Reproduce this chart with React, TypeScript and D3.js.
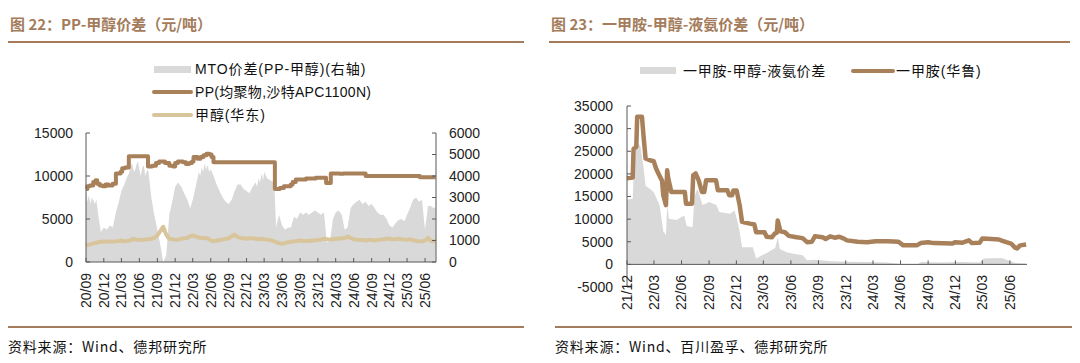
import React from 'react';
import * as d3 from 'd3';

// ---- 图22 data (left chart) ----
// MTO价差, right axis
const mtoSpread: [string, number][] = [
  ['2020-09-01', 3300], ['2020-09-08', 2800], ['2020-09-16', 3100], ['2020-09-24', 2700],
  ['2020-10-01', 3000], ['2020-10-16', 2700], ['2020-10-24', 2900], ['2020-11-01', 2300],
  ['2020-11-16', 1400], ['2020-12-01', 1600], ['2020-12-16', 1500], ['2021-01-01', 1700],
  ['2021-01-16', 1600], ['2021-02-01', 2300], ['2021-02-16', 2800], ['2021-03-01', 3300],
  ['2021-03-16', 3600], ['2021-04-01', 4000], ['2021-04-08', 4100], ['2021-04-16', 4400],
  ['2021-04-24', 4600], ['2021-05-01', 4300], ['2021-05-08', 4200], ['2021-05-16', 4500],
  ['2021-05-24', 4700], ['2021-06-01', 4300], ['2021-06-08', 4000], ['2021-06-16', 4400],
  ['2021-06-24', 4500], ['2021-07-01', 4000], ['2021-07-08', 4200], ['2021-07-16', 4300],
  ['2021-08-01', 3000], ['2021-08-16', 2200], ['2021-09-01', 1500], ['2021-09-16', 800],
  ['2021-10-01', 0], ['2021-10-16', 300], ['2021-11-01', 2200], ['2021-11-16', 2800],
  ['2021-12-01', 3500], ['2021-12-16', 3700], ['2022-01-01', 3500], ['2022-01-16', 3200],
  ['2022-02-01', 2900], ['2022-02-16', 2500], ['2022-03-01', 2900], ['2022-03-16', 3500],
  ['2022-04-01', 4200], ['2022-04-08', 4000], ['2022-04-16', 4400], ['2022-04-24', 4200],
  ['2022-05-01', 4600], ['2022-05-08', 4300], ['2022-05-16', 4500], ['2022-05-24', 4200],
  ['2022-06-01', 4300], ['2022-06-16', 4000], ['2022-07-01', 3600], ['2022-07-16', 3300],
  ['2022-08-01', 3000], ['2022-08-16', 2800], ['2022-09-01', 2700], ['2022-09-16', 2900],
  ['2022-10-01', 3300], ['2022-10-16', 3600], ['2022-11-01', 3600], ['2022-11-16', 3400],
  ['2022-12-01', 3300], ['2022-12-16', 3200], ['2023-01-01', 3500], ['2023-01-16', 3700],
  ['2023-01-24', 3500], ['2023-02-01', 3900], ['2023-02-08', 3700], ['2023-02-16', 4100],
  ['2023-02-24', 3800], ['2023-03-01', 4200], ['2023-03-16', 3900], ['2023-04-01', 3800],
  ['2023-04-22', 3700], ['2023-05-01', 1600], ['2023-05-16', 2200], ['2023-06-01', 1700],
  ['2023-06-16', 1500], ['2023-07-01', 1600], ['2023-07-16', 1600], ['2023-08-01', 2100],
  ['2023-08-16', 2000], ['2023-09-01', 2300], ['2023-09-16', 2200], ['2023-10-01', 2300],
  ['2023-10-16', 2200], ['2023-11-01', 2300], ['2023-11-16', 2400], ['2023-12-01', 2300],
  ['2023-12-16', 2200], ['2024-01-01', 2300], ['2024-01-16', 900], ['2024-02-01', 1000],
  ['2024-02-16', 2000], ['2024-03-01', 2300], ['2024-03-16', 2400], ['2024-04-01', 2200],
  ['2024-04-16', 1500], ['2024-05-01', 1600], ['2024-05-16', 2500], ['2024-06-01', 2700],
  ['2024-06-16', 2800], ['2024-07-01', 2900], ['2024-07-16', 2700], ['2024-08-01', 2800],
  ['2024-08-16', 2600], ['2024-09-01', 2700], ['2024-09-16', 2500], ['2024-10-01', 2300],
  ['2024-10-16', 2200], ['2024-11-01', 2200], ['2024-11-16', 2000], ['2024-12-01', 1700],
  ['2024-12-16', 1600], ['2025-01-01', 1800], ['2025-01-16', 1950], ['2025-02-01', 2000],
  ['2025-02-16', 1900], ['2025-03-01', 2200], ['2025-03-16', 2500], ['2025-04-01', 2900],
  ['2025-04-16', 3000], ['2025-05-01', 2800], ['2025-05-16', 2900], ['2025-06-01', 1500],
  ['2025-06-16', 2600], ['2025-07-01', 2600], ['2025-07-16', 2500], ['2025-07-25', 2550],
];

// PP(均聚物,沙特APC1100N), step changes
const ppPrice: [string, number][] = [
  ['2020-09-01', 8500], ['2020-09-08', 8800], ['2020-09-20', 8900], ['2020-10-08', 9300],
  ['2020-10-20', 9500], ['2020-10-28', 9100], ['2020-11-10', 8900], ['2020-11-25', 8800],
  ['2020-12-10', 9000], ['2020-12-25', 8900], ['2021-01-15', 9100], ['2021-02-01', 10300],
  ['2021-02-25', 10500], ['2021-03-05', 10900], ['2021-03-20', 11000], ['2021-04-08', 12300],
  ['2021-07-15', 11100], ['2021-08-05', 11200], ['2021-08-25', 11500], ['2021-09-10', 11700],
  ['2021-10-10', 11500], ['2021-11-01', 11200], ['2021-11-20', 11100], ['2021-12-01', 11500],
  ['2021-12-15', 11700], ['2022-01-10', 11600], ['2022-01-25', 11400], ['2022-02-10', 11500],
  ['2022-02-25', 11700], ['2022-03-05', 12200], ['2022-03-25', 12000], ['2022-04-10', 12200],
  ['2022-04-25', 12400], ['2022-05-10', 12600], ['2022-05-25', 12500], ['2022-06-05', 12200],
  ['2022-06-15', 11600], ['2023-04-25', 8500], ['2023-05-20', 8600], ['2023-06-10', 8800],
  ['2023-07-15', 9000], ['2023-07-25', 9300], ['2023-08-10', 9600], ['2023-10-01', 9700],
  ['2023-11-20', 9800], ['2024-01-12', 9200], ['2024-02-05', 10300], ['2024-03-20', 10250],
  ['2024-04-10', 10300], ['2024-08-01', 10000], ['2025-05-05', 9850], ['2025-07-25', 9850],
];

// 甲醇(华东)
const methanolPrice: [string, number][] = [
  ['2020-09-01', 1950], ['2020-09-16', 2000], ['2020-10-01', 2100], ['2020-10-16', 2200],
  ['2020-11-01', 2300], ['2020-11-16', 2350], ['2020-12-01', 2400], ['2020-12-16', 2350],
  ['2021-01-01', 2400], ['2021-01-16', 2350], ['2021-02-01', 2400], ['2021-02-16', 2450],
  ['2021-03-01', 2500], ['2021-03-16', 2400], ['2021-04-01', 2450], ['2021-04-16', 2500],
  ['2021-05-01', 2700], ['2021-05-16', 2600], ['2021-06-01', 2550], ['2021-06-16', 2600],
  ['2021-07-01', 2600], ['2021-07-16', 2650], ['2021-08-01', 2700], ['2021-08-16', 2800],
  ['2021-09-01', 3100], ['2021-09-16', 3600], ['2021-10-01', 4100], ['2021-10-16', 3200],
  ['2021-11-01', 2700], ['2021-11-16', 2650], ['2021-12-01', 2600], ['2021-12-16', 2600],
  ['2022-01-01', 2700], ['2022-01-16', 2750], ['2022-02-01', 2800], ['2022-02-16', 3000],
  ['2022-03-01', 3100], ['2022-03-16', 2950], ['2022-04-01', 2850], ['2022-04-16', 2800],
  ['2022-05-01', 2750], ['2022-05-16', 2800], ['2022-06-01', 2500], ['2022-06-16', 2400],
  ['2022-07-01', 2500], ['2022-07-16', 2550], ['2022-08-01', 2600], ['2022-08-16', 2700],
  ['2022-09-01', 2750], ['2022-09-16', 3000], ['2022-10-01', 3200], ['2022-10-16', 2900],
  ['2022-11-01', 2800], ['2022-11-16', 2750], ['2022-12-01', 2700], ['2022-12-16', 2750],
  ['2023-01-01', 2750], ['2023-01-16', 2700], ['2023-02-01', 2650], ['2023-02-16', 2700],
  ['2023-03-01', 2650], ['2023-03-16', 2600], ['2023-04-01', 2550], ['2023-04-16', 2450],
  ['2023-05-01', 2300], ['2023-05-16', 2200], ['2023-06-01', 2100], ['2023-06-16', 2200],
  ['2023-07-01', 2300], ['2023-07-16', 2350], ['2023-08-01', 2400], ['2023-08-16', 2450],
  ['2023-09-01', 2500], ['2023-09-16', 2450], ['2023-10-01', 2450], ['2023-10-16', 2450],
  ['2023-11-01', 2500], ['2023-11-16', 2500], ['2023-12-01', 2550], ['2023-12-16', 2600],
  ['2024-01-01', 2700], ['2024-01-16', 2650], ['2024-02-01', 2600], ['2024-02-16', 2650],
  ['2024-03-01', 2700], ['2024-03-16', 2700], ['2024-04-01', 2750], ['2024-04-16', 2800],
  ['2024-05-01', 2950], ['2024-05-16', 2800], ['2024-06-01', 2650], ['2024-06-16', 2600],
  ['2024-07-01', 2550], ['2024-07-16', 2550], ['2024-08-01', 2500], ['2024-08-16', 2550],
  ['2024-09-01', 2550], ['2024-09-16', 2500], ['2024-10-01', 2550], ['2024-10-16', 2600],
  ['2024-11-01', 2650], ['2024-11-16', 2700], ['2024-12-01', 2700], ['2024-12-16', 2650],
  ['2025-01-01', 2650], ['2025-01-16', 2700], ['2025-02-01', 2650], ['2025-02-16', 2600],
  ['2025-03-01', 2600], ['2025-03-16', 2650], ['2025-04-01', 2550], ['2025-04-16', 2450],
  ['2025-05-01', 2400], ['2025-05-16', 2400], ['2025-06-01', 2500], ['2025-06-16', 2800],
  ['2025-07-01', 2450], ['2025-07-16', 2400], ['2025-07-25', 2400],
];

const leftXLabels = ['20/09', '20/12', '21/03', '21/06', '21/09', '21/12', '22/03', '22/06', '22/09', '22/12',
  '23/03', '23/06', '23/09', '23/12', '24/03', '24/06', '24/09', '24/12', '25/03', '25/06'];
const leftYTicks = [0, 5000, 10000, 15000];
const leftY2Ticks = [0, 1000, 2000, 3000, 4000, 5000, 6000];

// ---- 图23 data (right chart) ----
// 一甲胺-甲醇-液氨价差
const amineSpread: [string, number][] = [
  ['2021-12-01', 14300], ['2021-12-20', 14500], ['2021-12-24', 21000], ['2022-01-04', 27400],
  ['2022-01-15', 26000], ['2022-01-24', 22000], ['2022-02-01', 17400], ['2022-02-15', 16700],
  ['2022-03-01', 15900], ['2022-03-20', 13000], ['2022-04-01', 7300], ['2022-04-10', 6500],
  ['2022-04-14', 13100], ['2022-04-20', 10100], ['2022-05-15', 9800], ['2022-06-10', 10800],
  ['2022-06-18', 8500], ['2022-07-08', 8200], ['2022-07-14', 15000], ['2022-07-24', 16700],
  ['2022-08-10', 13100], ['2022-09-01', 13800], ['2022-09-25', 13100], ['2022-10-05', 11600],
  ['2022-11-10', 11200], ['2022-11-25', 11900], ['2022-12-05', 9400], ['2022-12-12', 7200],
  ['2022-12-20', 3800], ['2023-01-25', 3800], ['2023-02-05', 1300], ['2023-02-25', 2000],
  ['2023-03-10', 2400], ['2023-04-10', 3700], ['2023-04-18', 6000], ['2023-04-25', 3400],
  ['2023-05-20', 2600], ['2023-06-15', 2300], ['2023-07-10', 2000], ['2023-07-25', 900],
  ['2023-08-20', 1000], ['2023-10-15', 700], ['2023-12-10', 600], ['2024-02-10', 500],
  ['2024-04-15', 400], ['2024-06-05', 100], ['2024-07-25', 0], ['2024-08-10', 500],
  ['2024-10-15', 400], ['2024-12-15', 500], ['2025-02-20', 400], ['2025-03-05', 1300],
  ['2025-05-05', 1400], ['2025-05-25', 900], ['2025-06-20', 300], ['2025-07-25', 200],
];

// 一甲胺(华鲁)
const aminePrice: [string, number][] = [
  ['2021-12-01', 19000], ['2021-12-20', 19200], ['2021-12-23', 25500], ['2022-01-01', 26000],
  ['2022-01-04', 32600], ['2022-01-20', 32600], ['2022-01-25', 28500], ['2022-02-01', 23400],
  ['2022-02-15', 23000], ['2022-02-28', 22800], ['2022-03-08', 21200], ['2022-03-20', 19500],
  ['2022-03-28', 18500], ['2022-04-01', 15300], ['2022-04-10', 13100], ['2022-04-14', 20800],
  ['2022-04-18', 18900], ['2022-04-28', 16000], ['2022-06-12', 16000], ['2022-06-16', 13400],
  ['2022-07-06', 13400], ['2022-07-10', 19700], ['2022-07-18', 20100], ['2022-07-28', 18600],
  ['2022-08-08', 16000], ['2022-08-16', 16000], ['2022-08-22', 18600], ['2022-09-24', 18600],
  ['2022-09-30', 16400], ['2022-11-01', 16400], ['2022-11-07', 15300], ['2022-11-17', 15300],
  ['2022-11-21', 16300], ['2022-12-02', 16300], ['2022-12-12', 13100], ['2022-12-20', 9400],
  ['2023-01-15', 9000], ['2023-01-30', 8800], ['2023-02-05', 7100], ['2023-03-05', 7100],
  ['2023-03-12', 6100], ['2023-03-30', 6000], ['2023-04-08', 6800], ['2023-04-15', 7000],
  ['2023-04-18', 9700], ['2023-04-27', 7300], ['2023-05-12', 7100], ['2023-05-25', 6300],
  ['2023-06-20', 6000], ['2023-07-10', 5800], ['2023-07-25', 4900], ['2023-08-10', 5000],
  ['2023-08-20', 6200], ['2023-09-15', 6000], ['2023-09-25', 5600], ['2023-10-10', 6200],
  ['2023-10-25', 5900], ['2023-11-10', 6100], ['2023-11-25', 5700], ['2023-12-05', 5300],
  ['2024-01-10', 5000], ['2024-02-10', 4900], ['2024-03-10', 5100], ['2024-04-20', 5100],
  ['2024-05-25', 5000], ['2024-06-10', 4200], ['2024-07-25', 4200], ['2024-08-07', 4700],
  ['2024-09-01', 4900], ['2024-09-20', 4700], ['2024-11-20', 4600], ['2024-12-01', 4900],
  ['2024-12-25', 4800], ['2025-01-15', 5300], ['2025-01-25', 4700], ['2025-02-20', 4800],
  ['2025-03-01', 5700], ['2025-04-01', 5600], ['2025-04-25', 5500], ['2025-05-07', 5200],
  ['2025-05-20', 4900], ['2025-06-05', 4600], ['2025-06-18', 3700], ['2025-06-25', 3500],
  ['2025-07-05', 4200], ['2025-07-25', 4400],
];

const rightXLabels = ['21/12', '22/03', '22/06', '22/09', '22/12', '23/03', '23/06', '23/09', '23/12',
  '24/03', '24/06', '24/09', '24/12', '25/03', '25/06'];
const rightYTicks = [-5000, 0, 5000, 10000, 15000, 20000, 25000, 30000, 35000];

const BROWN = '#a8805a';
const TAN = '#d9c59b';
const GRAY = '#d9d9d9';
const TITLE = '#a47c5b';
const AXIS = '#595959';
const FONT = '"Liberation Sans", Arial, "Noto Sans CJK SC", sans-serif';
const CJK = '"Noto Sans CJK SC", sans-serif';

const parse = d3.timeParse('%Y-%m-%d');
const labelDate = (s: string) => new Date(2000 + +s.slice(0, 2), +s.slice(3) - 1, 1);

function LeftChart() {
  const x = d3.scaleTime().domain([parse('2020-09-01')!, parse('2025-07-27')!]).range([86, 436]);
  const yL = d3.scaleLinear().domain([0, 15000]).range([262, 133]);
  const yR = d3.scaleLinear().domain([0, 6000]).range([262, 133]);

  const area = d3.area<[string, number]>()
    .x(d => x(parse(d[0])!))
    .y0(yR(0))
    .y1(d => yR(d[1]));
  const ppLine = d3.line<[string, number]>()
    .x(d => x(parse(d[0])!))
    .y(d => yL(d[1]))
    .curve(d3.curveStepAfter);
  const meLine = d3.line<[string, number]>()
    .x(d => x(parse(d[0])!))
    .y(d => yL(d[1]));

  return (
    <g fontFamily={FONT}>
      <text x={10} y={30} fontSize={15} fontWeight="bold" fill={TITLE} fontFamily={CJK}>
        图 22：PP-甲醇价差（元/吨）
      </text>
      <line x1={8} x2={524} y1={42} y2={42} stroke={TITLE} strokeWidth={2} />

      {/* legend */}
      <rect x={154} y={66} width={37} height={7} fill={GRAY} />
      <text x={195} y={69} dy="0.35em" fontSize={14} fill="#111" letterSpacing={0.9}>MTO价差(PP-甲醇)(右轴)</text>
      <line x1={154} x2={191} y1={92} y2={92} stroke={BROWN} strokeWidth={4} strokeLinecap="round" />
      <text x={195} y={92} dy="0.35em" fontSize={14} fill="#111" letterSpacing={0.3}>PP(均聚物,沙特APC1100N)</text>
      <line x1={154} x2={191} y1={115} y2={115} stroke={TAN} strokeWidth={4} strokeLinecap="round" />
      <text x={195} y={115} dy="0.35em" fontSize={14} fill="#111" letterSpacing={0.9}>甲醇(华东)</text>

      <path d={area(mtoSpread) ?? ''} fill={GRAY} />
      <path d={meLine(methanolPrice) ?? ''} fill="none" stroke={TAN} strokeWidth={4} strokeLinejoin="round" />
      <path d={ppLine(ppPrice) ?? ''} fill="none" stroke={BROWN} strokeWidth={4} strokeLinejoin="round" />

      {/* axes */}
      <line x1={86} x2={86} y1={133} y2={262} stroke={AXIS} />
      <line x1={436} x2={436} y1={133} y2={262} stroke={AXIS} />
      <line x1={86} x2={436} y1={262} y2={262} stroke={AXIS} />
      {leftYTicks.map(t => (
        <g key={t}>
          <line x1={86} x2={90} y1={yL(t)} y2={yL(t)} stroke={AXIS} />
          <text x={73} y={yL(t)} dy="0.35em" textAnchor="end" fontSize={14} fill="#222">{t}</text>
        </g>
      ))}
      {leftY2Ticks.map(t => (
        <g key={t}>
          <line x1={432} x2={436} y1={yR(t)} y2={yR(t)} stroke={AXIS} />
          <text x={449} y={yR(t)} dy="0.35em" fontSize={14} fill="#222">{t}</text>
        </g>
      ))}
      {leftXLabels.map(l => {
        const px = x(labelDate(l));
        return (
          <g key={l}>
            <line x1={px} x2={px} y1={262} y2={258} stroke={AXIS} />
            <text transform={`translate(${px},273) rotate(-90)`} dy="0.35em" textAnchor="end"
              fontSize={14} fill="#222">{l}</text>
          </g>
        );
      })}

      <line x1={8} x2={524} y1={327} y2={327} stroke={TITLE} strokeWidth={2} />
      <text x={8} y={347} dy="0.35em" fontSize={14} fill="#111" fontFamily={CJK} letterSpacing={0.8}>
        资料来源：Wind、德邦研究所
      </text>
    </g>
  );
}

function RightChart() {
  const x = d3.scaleTime().domain([parse('2021-12-01')!, parse('2025-07-28')!]).range([627, 1027]);
  const y = d3.scaleLinear().domain([-5000, 35000]).range([287, 106]);

  const area = d3.area<[string, number]>()
    .x(d => x(parse(d[0])!))
    .y0(y(0))
    .y1(d => y(d[1]));
  const line = d3.line<[string, number]>()
    .x(d => x(parse(d[0])!))
    .y(d => y(d[1]));

  return (
    <g fontFamily={FONT}>
      <text x={551} y={30} fontSize={15} fontWeight="bold" fill={TITLE} fontFamily={CJK}>
        图 23：一甲胺-甲醇-液氨价差（元/吨）
      </text>
      <line x1={549} x2={1070} y1={42} y2={42} stroke={TITLE} strokeWidth={2} />

      {/* legend */}
      <rect x={640} y={67} width={36} height={7} fill={GRAY} />
      <text x={683} y={71} dy="0.35em" fontSize={14} fill="#111" letterSpacing={0.7}>一甲胺-甲醇-液氨价差</text>
      <line x1={853} x2={893} y1={71} y2={71} stroke={BROWN} strokeWidth={4} strokeLinecap="round" />
      <text x={896} y={71} dy="0.35em" fontSize={14} fill="#111" letterSpacing={0.9}>一甲胺(华鲁)</text>

      <path d={area(amineSpread) ?? ''} fill={GRAY} />
      <path d={line(aminePrice) ?? ''} fill="none" stroke={BROWN} strokeWidth={4.5} strokeLinejoin="round" />

      <line x1={627} x2={627} y1={106} y2={287} stroke={AXIS} />
      <line x1={627} x2={1027} y1={y(0)} y2={y(0)} stroke={AXIS} />
      {rightYTicks.map(t => (
        <g key={t}>
          <line x1={627} x2={631} y1={y(t)} y2={y(t)} stroke={AXIS} />
          <text x={613} y={y(t)} dy="0.35em" textAnchor="end" fontSize={14} fill="#222">{t}</text>
        </g>
      ))}
      {rightXLabels.map(l => {
        const px = x(labelDate(l));
        return (
          <g key={l}>
            <line x1={px} x2={px} y1={y(0)} y2={y(0) - 4} stroke={AXIS} />
            <text transform={`translate(${px},275) rotate(-90)`} dy="0.35em" textAnchor="end"
              fontSize={14} fill="#222">{l}</text>
          </g>
        );
      })}

      <line x1={555} x2={1072} y1={327} y2={327} stroke={TITLE} strokeWidth={2} />
      <text x={555} y={347} dy="0.35em" fontSize={14} fill="#111" fontFamily={CJK} letterSpacing={0.8}>
        资料来源：Wind、百川盈孚、德邦研究所
      </text>
    </g>
  );
}

export default function App() {
  return (
    <svg width={1080} height={363} style={{ position: 'absolute', left: 0, top: 0, background: '#fff' }}>
      <LeftChart />
      <RightChart />
    </svg>
  );
}
